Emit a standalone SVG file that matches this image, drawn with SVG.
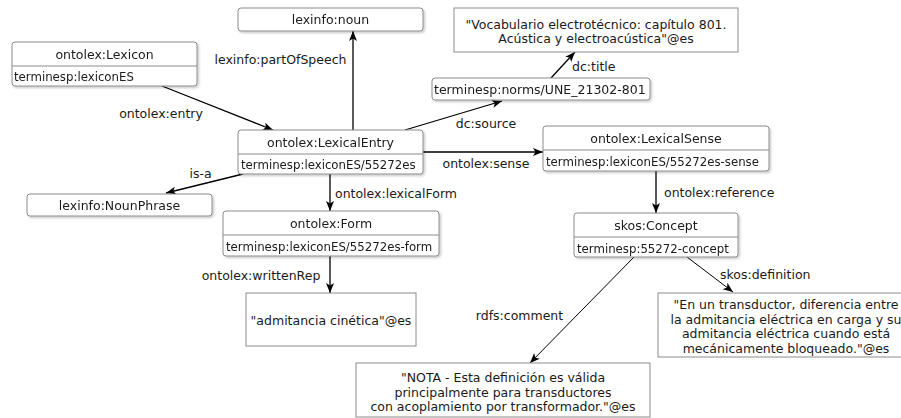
<svg xmlns="http://www.w3.org/2000/svg" width="901" height="418" viewBox="0 0 901 418">
<defs>
<style>
text{font-family:"DejaVu Sans","Liberation Sans",sans-serif;fill:#1a1a1a}
.h{font-size:12.5px;text-anchor:middle}
.s{font-size:11.75px}
.l{font-size:12.5px}
.m{text-anchor:middle}
.box{fill:#fff;stroke:#8c8c8c;stroke-width:1}
.node{filter:url(#sh)}
.div{stroke:#8c8c8c;stroke-width:1}
.lit{fill:#fff;stroke:#8c8c8c;stroke-width:1}
.e{stroke:#000;stroke-width:1.3;fill:none;marker-end:url(#arr)}
.t{stroke-width:1}
</style>
<filter id="sh" x="-10%" y="-20%" width="120%" height="150%">
<feDropShadow dx="1.5" dy="1.5" stdDeviation="1" flood-color="#000" flood-opacity="0.22"/>
</filter>
<marker id="arr" markerUnits="userSpaceOnUse" markerWidth="11" markerHeight="9" refX="10" refY="4" orient="auto">
<path d="M0,0 L10,4 L0,8 L2.5,4 z" fill="#000"/>
</marker>
</defs>

<g id="connectors">
<line class="e" x1="162" y1="86" x2="273" y2="130"/>
<line class="e" x1="353" y1="130" x2="353" y2="31"/>
<line class="e" x1="243" y1="174" x2="166" y2="193"/>
<line class="e" x1="330" y1="174" x2="330" y2="211"/>
<line class="e" x1="330" y1="256" x2="330" y2="293"/>
<line class="e" x1="405" y1="130" x2="502" y2="101"/>
<line class="e" x1="551" y1="78" x2="575" y2="52"/>
<line class="e" x1="423" y1="152" x2="543" y2="152"/>
<line class="e" x1="656" y1="171" x2="656" y2="213"/>
<line class="e t" x1="687" y1="257" x2="733" y2="292"/>
<line class="e t" x1="634" y1="257" x2="530" y2="363"/>
<text class="l m" x="161" y="117.5">ontolex:entry</text>
<text class="l m" x="280.5" y="63.5">lexinfo:partOfSpeech</text>
<text class="l m" x="200.5" y="177.5">is-a</text>
<text class="l" x="335" y="197.5">ontolex:lexicalForm</text>
<text class="l m" x="261" y="279.5">ontolex:writtenRep</text>
<text class="l m" x="486" y="127.5">dc:source</text>
<text class="l" x="572" y="70.5">dc:title</text>
<text class="l m" x="486" y="167.5">ontolex:sense</text>
<text class="l" x="664" y="196.5">ontolex:reference</text>
<text class="l" x="720" y="278.5">skos:definition</text>
<text class="l m" x="519.5" y="319.5">rdfs:comment</text>
</g>

<g id="lexicon" class="node">
<rect class="box" x="12" y="42" width="185" height="44" rx="3"/>
<line class="div" x1="12" y1="66" x2="197" y2="66"/>
<text class="h" x="104.5" y="59">ontolex:Lexicon</text>
<text class="s" x="14" y="81">terminesp:lexiconES</text>
</g>

<g id="noun" class="node">
<rect class="box" x="238" y="8" width="185" height="23" rx="3"/>
<text class="h" x="330.5" y="24">lexinfo:noun</text>
</g>

<g id="lexicalEntry" class="node">
<rect class="box" x="238" y="130" width="185" height="44" rx="3"/>
<line class="div" x1="238" y1="154" x2="423" y2="154"/>
<text class="h" x="330.5" y="146.5">ontolex:LexicalEntry</text>
<text class="s" x="241" y="169">terminesp:lexiconES/55272es</text>
</g>

<g id="nounPhrase" class="node">
<rect class="box" x="27" y="194" width="185" height="22" rx="3"/>
<text class="h" x="119.5" y="209.5">lexinfo:NounPhrase</text>
</g>

<g id="form" class="node">
<rect class="box" x="223" y="211" width="216" height="45" rx="3"/>
<line class="div" x1="223" y1="235" x2="439" y2="235"/>
<text class="h" x="331" y="227.5">ontolex:Form</text>
<text class="s" x="226" y="251">terminesp:lexiconES/55272es-form</text>
</g>

<g id="norms" class="node">
<rect class="box" x="432" y="78" width="218" height="22" rx="3"/>
<text class="l" x="434" y="93.5">terminesp:norms/UNE_21302-801</text>
</g>

<g id="lexicalSense" class="node">
<rect class="box" x="543" y="126" width="226" height="45" rx="3"/>
<line class="div" x1="543" y1="150" x2="769" y2="150"/>
<text class="h" x="656" y="142.5">ontolex:LexicalSense</text>
<text class="s" x="546" y="166">terminesp:lexiconES/55272es-sense</text>
</g>

<g id="concept" class="node">
<rect class="box" x="574" y="213" width="164" height="44" rx="3"/>
<line class="div" x1="574" y1="237" x2="738" y2="237"/>
<text class="h" x="656" y="229.5">skos:Concept</text>
<text class="s" x="577" y="252.5">terminesp:55272-concept</text>
</g>

<g id="title">
<rect class="lit" x="454" y="8" width="284" height="44"/>
<text class="l m" x="596" y="29">"Vocabulario electrotécnico: capítulo 801.</text>
<text class="l m" x="596" y="43">Acústica y electroacústica"@es</text>
</g>

<g id="writtenRep">
<rect class="lit" x="246" y="293" width="170" height="53"/>
<text class="l m" x="331" y="324.5">"admitancia cinética"@es</text>
</g>

<g id="definition">
<rect class="lit" x="658" y="293" width="256" height="64"/>
<text class="l m" x="786" y="309">"En un transductor, diferencia entre</text>
<text class="l m" x="786" y="323.5">la admitancia eléctrica en carga y su</text>
<text class="l m" x="786" y="338">admitancia eléctrica cuando está</text>
<text class="l m" x="786" y="352.5">mecánicamente bloqueado."@es</text>
</g>

<g id="comment">
<rect class="lit" x="356" y="363" width="294" height="54"/>
<text class="l m" x="503" y="382">"NOTA - Esta definición es válida</text>
<text class="l m" x="503" y="396.5">principalmente para transductores</text>
<text class="l m" x="503" y="411">con acoplamiento por transformador."@es</text>
</g>
</svg>
